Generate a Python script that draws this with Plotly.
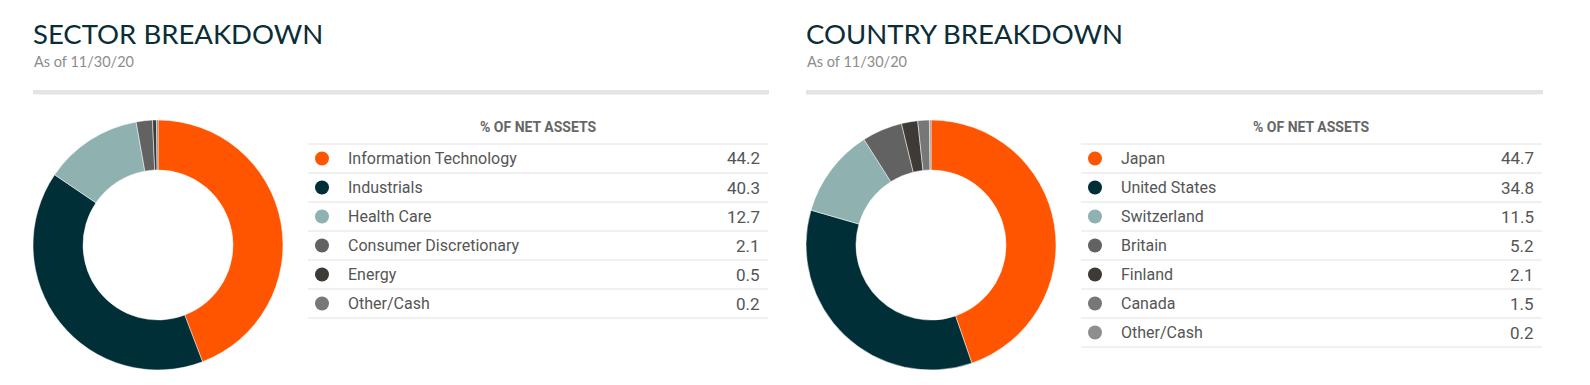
import plotly.graph_objects as go

W, H = 1590, 385
OFF = 8  # page body margin
FW, FH = W - 2 * OFF, H - 2 * OFF

# ---- data ----
sector_labels = ["Information Technology", "Industrials", "Health Care",
                 "Consumer Discretionary", "Energy", "Other/Cash"]
sector_values = [44.2, 40.3, 12.7, 2.1, 0.5, 0.2]
sector_colors = ["#FF5500", "#012F38", "#8FB2B1", "#626262", "#3E3A36", "#777777"]

country_labels = ["Japan", "United States", "Switzerland", "Britain",
                  "Finland", "Canada", "Other/Cash"]
country_values = [44.7, 34.8, 11.5, 5.2, 2.1, 1.5, 0.2]
country_colors = ["#FF5500", "#012F38", "#8FB2B1", "#626262", "#3E3A36", "#777777", "#8E8E8E"]

titles = ["SECTOR BREAKDOWN", "COUNTRY BREAKDOWN"]
subtitle = "As of 11/30/20"
table_header = "% OF NET ASSETS"


def px(x):
    return (x - OFF) / FW


def py(y):
    return 1 - (y - OFF) / FH


fig = go.Figure()

panels = [
    dict(labels=sector_labels, values=sector_values, colors=sector_colors,
         x0=33, x1=769, pie_x=33, t0=308, t1=768),
    dict(labels=country_labels, values=country_values, colors=country_colors,
         x0=806, x1=1543, pie_x=806, t0=1081, t1=1542),
]

shapes = []
annotations = []
TEXT_FONT = "Roboto, Arial, sans-serif"

for i, p in enumerate(panels):
    R = 125
    cy = 245
    fig.add_trace(go.Pie(
        labels=p["labels"], values=p["values"],
        marker=dict(colors=p["colors"], line=dict(color="white", width=0.5)),
        hole=0.6, sort=False, direction="clockwise", rotation=0,
        textinfo="none", hoverinfo="label+value", showlegend=False,
        domain=dict(x=[px(p["pie_x"]), px(p["pie_x"] + 2 * R)],
                    y=[py(cy + R), py(cy - R)]),
    ))

    # title and subtitle
    annotations.append(dict(text=titles[i], x=px(p["x0"] - 2), y=py(52), xref="paper", yref="paper",
                            xanchor="left", yanchor="bottom", showarrow=False,
                            font=dict(family="Lato, sans-serif", size=27.5, color="#0B2D37")))
    annotations.append(dict(text=subtitle, x=px(p["x0"] - 1), y=py(72), xref="paper", yref="paper",
                            xanchor="left", yanchor="bottom", showarrow=False,
                            font=dict(family="Lato, sans-serif", size=14.5, color="#8C8C8C")))
    # separator bar
    shapes.append(dict(type="rect", xref="paper", yref="paper",
                       x0=px(p["x0"]), x1=px(p["x1"]), y0=py(94.5), y1=py(90),
                       fillcolor="#E4E4E4", line=dict(width=0)))

    # table header
    annotations.append(dict(text="<b>" + table_header + "</b>", x=px((p["t0"] + p["t1"]) / 2), y=py(127),
                            xref="paper", yref="paper", xanchor="center", yanchor="middle",
                            showarrow=False,
                            font=dict(family=TEXT_FONT, size=14, color="#666666")))
    top = 144
    rh = 29
    n = len(p["labels"])
    for k in range(n + 1):
        yy = top + k * rh
        shapes.append(dict(type="line", xref="paper", yref="paper",
                           x0=px(p["t0"]), x1=px(p["t1"]), y0=py(yy), y1=py(yy),
                           line=dict(color="#E2E2E2", width=1)))
    for k, (lab, val, col) in enumerate(zip(p["labels"], p["values"], p["colors"])):
        yc = top + k * rh + rh / 2
        dx = p["t0"] + 14
        shapes.append(dict(type="circle", xref="paper", yref="paper",
                           x0=px(dx - 7), x1=px(dx + 7), y0=py(yc + 7), y1=py(yc - 7),
                           fillcolor=col, line=dict(width=0)))
        annotations.append(dict(text=lab, x=px(p["t0"] + 38), y=py(yc), xref="paper", yref="paper",
                                xanchor="left", yanchor="middle", showarrow=False,
                                font=dict(family=TEXT_FONT, size=16, color="#555555")))
        annotations.append(dict(text=f"{val:.1f}", x=px(p["t1"] - 6), y=py(yc), xref="paper", yref="paper",
                                xanchor="right", yanchor="middle", showarrow=False,
                                font=dict(family=TEXT_FONT, size=17, color="#555555")))

fig.update_layout(
    width=FW, height=FH,
    margin=dict(l=0, r=0, t=0, b=0),
    paper_bgcolor="white", plot_bgcolor="white",
    shapes=shapes, annotations=annotations,
    showlegend=False,
)

fig.write_html("out.html")
